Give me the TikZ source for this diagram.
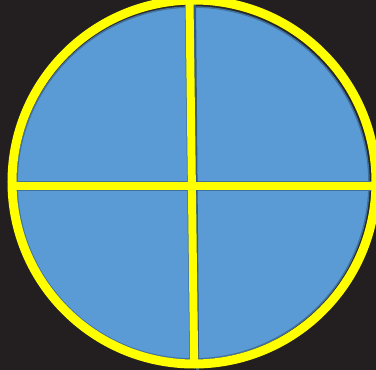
\documentclass[tikz,border=0pt]{standalone}
\definecolor{bgdark}{HTML}{231F20}
\definecolor{pieblue}{HTML}{5B9BD5}
\definecolor{pieedge}{HTML}{41719C}
\definecolor{ringyellow}{HTML}{FFFF00}
\tikzset{
  ring/.style={draw=ringyellow, line width=9pt},
  bar/.style={draw=ringyellow, line width=8pt},
  baredge/.style={draw=pieedge, line width=9.5pt},
}
\begin{document}
\begin{tikzpicture}[x=1pt,y=-1pt]
\useasboundingbox (0,0) rectangle (376,370);
\fill[bgdark] (0,0) rectangle (376,370);
\clip (0,0) rectangle (376,370);
% centres
\coordinate (c) at (194,182);
\coordinate (cb) at (193,183);
\coordinate (cs) at (195.5,180.5);
% shadow and blue disc
\fill[black!85] (cs) circle[radius=177.5];
\fill[pieblue, draw=pieedge, line width=1.5pt] (cb) circle[radius=176];
% bars
\coordinate (vt) at (189.5,0);
\coordinate (vb) at (194.2,366);
\coordinate (hl) at (14,185.8);
\coordinate (hr) at (376,185.8);
\draw[baredge] (vt) -- (vb);
\draw[baredge] (hl) -- (hr);
\draw[pieedge!80!black, line width=3pt] ([xshift=5pt]vt) -- ([xshift=5pt,yshift=-182pt]vb);
\draw[bar] (vt) -- (vb);
\draw[bar] (hl) -- (hr);
% ring
\draw[ring] (c) circle[radius=182];
\end{tikzpicture}
\end{document}
